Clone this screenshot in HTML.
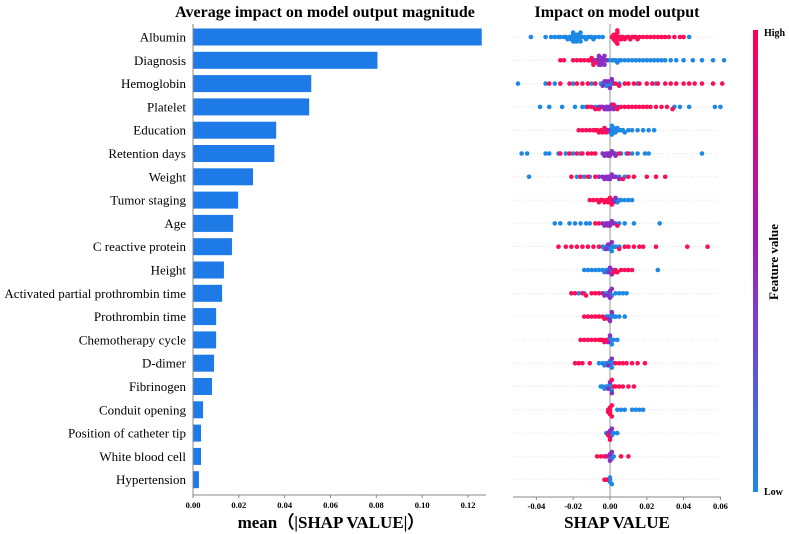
<!DOCTYPE html>
<html><head><meta charset="utf-8"><style>
html,body{margin:0;padding:0;background:#fff;width:789px;height:534px;overflow:hidden}
svg text{font-family:"Liberation Serif",serif}
</style></head><body>
<svg id="c" width="789" height="534" xmlns="http://www.w3.org/2000/svg">
<defs><linearGradient id="cg" x1="0" y1="0" x2="0" y2="1">
<stop offset="0" stop-color="#ff0052"/><stop offset="0.45" stop-color="#a21ab4"/><stop offset="0.62" stop-color="#7a3fcf"/><stop offset="1" stop-color="#1e88e5"/></linearGradient></defs>
<text x="325" y="17" font-size="16" font-weight="bold" text-anchor="middle">Average impact on model output magnitude</text>
<text x="617" y="17" font-size="16" font-weight="bold" text-anchor="middle">Impact on model output</text>
<g id="bars"></g>
<g id="swarm"></g>
<rect x="753" y="30" width="5" height="462" fill="url(#cg)"/>
<text x="764" y="36" font-size="10" font-weight="bold">High</text>
<text x="764" y="495" font-size="10" font-weight="bold">Low</text>
<text x="0" y="0" font-size="13" font-weight="bold" text-anchor="middle" transform="translate(778,262) rotate(-90)">Feature value</text>
<text x="331" y="528" font-size="17" font-weight="bold" text-anchor="middle">mean（|SHAP VALUE|）</text>
<text x="617" y="528" font-size="17" font-weight="bold" text-anchor="middle">SHAP VALUE</text>
</svg>
<script>
const features=["Albumin","Diagnosis","Hemoglobin","Platelet","Education","Retention days","Weight","Tumor staging","Age","C reactive protein","Height","Activated partial prothrombin time","Prothrombin time","Chemotherapy cycle","D-dimer","Fibrinogen","Conduit opening","Position of catheter tip","White blood cell","Hypertension"];
const meanShap=[0.126,0.0805,0.0516,0.0507,0.0363,0.0355,0.0262,0.0197,0.0175,0.017,0.0135,0.0127,0.0101,0.0101,0.0092,0.0083,0.0044,0.0035,0.0035,0.0026];
const barTicks=[0,0.02,0.04,0.06,0.08,0.10,0.12];
const swarmTicks=[-0.04,-0.02,0,0.02,0.04,0.06];
const shapLow=[
[-0.043,-0.035,-0.032,-0.03,-0.028,-0.027,-0.025,-0.024,-0.023,-0.022,-0.021,-0.021,-0.02,-0.02,-0.02,-0.019,-0.019,-0.019,-0.019,-0.018,-0.018,-0.018,-0.018,-0.017,-0.017,-0.017,-0.016,-0.016,-0.015,-0.014,-0.013,-0.012,-0.011,-0.01,-0.009,-0.008,-0.006,-0.004,0.043],
[-0.001,0.001,0.002,0.003,0.004,0.005,0.006,0.008,0.01,0.012,0.014,0.016,0.018,0.02,0.022,0.024,0.026,0.028,0.03,0.033,0.036,0.04,0.045,0.05,0.056,0.062],
[-0.05,-0.035,-0.03,-0.02,-0.01,-0.005,-0.003,-0.002,-0.002,-0.001,-0.001,0,0,0.001,0.005,0.015,0.025],
[-0.038,-0.033,-0.026,-0.019,-0.015,-0.013,-0.008,0,0.002,0.035,0.038,0.043,0.057,0.06],
[0,0,0.001,0.001,0.001,0.002,0.002,0.002,0.003,0.003,0.004,0.005,0.006,0.007,0.008,0.01,0.012,0.015,0.018,0.021,0.024],
[-0.048,-0.045,-0.035,-0.033,-0.028,-0.024,-0.02,-0.016,0.003,0.006,0.009,0.012,0.015,0.019,0.021,0.05],
[-0.044,-0.018,-0.014,-0.011,0.005,0.008],
[0.002,0.003,0.004,0.005,0.006,0.008,0.01,0.012],
[-0.03,-0.027,-0.022,-0.019,-0.016,-0.013,-0.011,0.003,0.005,0.008,0.013,0.027],
[-0.004,-0.003,-0.002,-0.001,-0.001,0,0,0,0.001,0.002,0.003,0.005],
[-0.014,-0.012,-0.01,-0.008,-0.006,-0.004,-0.003,-0.002,-0.001,0,0,0.026],
[-0.017,-0.014,-0.002,-0.001,0,0.001,0.003,0.005,0.007,0.009],
[-0.002,-0.001,0,0,0.001,0.002,0.003,0.005,0.008],
[-0.001,0,0,0,0.001,0.002,0.004],
[-0.006,-0.004,-0.003,-0.002,-0.001,0,0,0,0.001,0.002],
[-0.005,-0.004,-0.003,-0.002,-0.001,0,0,0,0.001],
[0.004,0.006,0.008,0.012,0.014,0.016,0.018],
[-0.002,0,0.001,0.002,0.004],
[0,0.001,0.002],
[-0.001,0,0,0,0.001]];
const shapMid=[
[],
[-0.01,-0.009,-0.008,-0.007,-0.007,-0.006,-0.006,-0.006,-0.005,-0.005,-0.005,-0.005,-0.004,-0.004,-0.004,-0.003,-0.003,-0.002],
[-0.004,-0.003,-0.002,-0.001,0,0.001,0.002],
[-0.006,-0.005,-0.004,-0.003,-0.002,-0.002,-0.001,-0.001,0,0.001,0.002,0.004],
[-0.003,-0.002,-0.001],
[-0.004,-0.003,-0.002,-0.001,-0.001,0,0,0.001,0.002,0.003],
[-0.006,-0.004,-0.003,-0.002,-0.001,-0.001,0,0,0.001,0.002,0.003,0.005],
[0.001,0.002,0.003],
[-0.004,-0.003,-0.002,-0.001,-0.001,0,0,0.001,0.002],
[-0.002,-0.001,0.001],
[-0.001,0,0.001,0.002],
[-0.004,-0.003,-0.001,0,0,0.001],
[-0.001,0,0.001],
[-0.001,0],
[-0.001,0.001],
[-0.001,0,0.001],
[],
[-0.001,0,0,0.001],
[-0.002,-0.001,0,0,0.001],
[]];
const shapHigh=[
[0.001,0.002,0.002,0.002,0.003,0.003,0.003,0.003,0.004,0.004,0.004,0.005,0.005,0.006,0.006,0.007,0.008,0.009,0.01,0.011,0.012,0.013,0.014,0.015,0.016,0.018,0.02,0.022,0.024,0.026,0.028,0.03,0.032,0.035,0.038,0.04],
[-0.027,-0.025,-0.02,-0.018,-0.016,-0.014,-0.012,-0.011,-0.01,-0.009,-0.008],
[-0.033,-0.027,-0.022,-0.018,-0.015,-0.012,-0.008,0.003,0.005,0.008,0.01,0.013,0.016,0.02,0.023,0.026,0.03,0.033,0.036,0.04,0.043,0.046,0.05,0.056,0.061],
[-0.012,-0.01,-0.008,-0.006,0.002,0.004,0.006,0.008,0.01,0.012,0.014,0.016,0.018,0.02,0.022,0.025,0.028,0.031,0.034],
[-0.017,-0.015,-0.013,-0.011,-0.009,-0.008,-0.007,-0.006,-0.005,-0.004,-0.003,-0.002],
[-0.027,-0.022,-0.018,-0.015,-0.012,-0.01,-0.008,0.005,0.01],
[-0.021,-0.016,-0.012,-0.008,0.007,0.01,0.013,0.02,0.025,0.03],
[-0.011,-0.009,-0.007,-0.006,-0.005,-0.004,-0.003,-0.002,-0.001,-0.001,0,0,0.001],
[-0.008,-0.006,0.004],
[-0.028,-0.024,-0.021,-0.018,-0.015,-0.012,-0.009,-0.006,0.005,0.008,0.01,0.013,0.016,0.018,0.025,0.042,0.053],
[0.002,0.003,0.004,0.006,0.008,0.01,0.012],
[-0.021,-0.019,-0.015,-0.013,-0.01,-0.008,-0.006],
[-0.014,-0.012,-0.01,-0.008,-0.006,-0.004,-0.003],
[-0.016,-0.014,-0.012,-0.01,-0.008,-0.006,-0.005,-0.004,-0.003,-0.002],
[-0.019,-0.017,-0.015,-0.011,0.003,0.005,0.007,0.009,0.012,0.015,0.019],
[0.001,0.002,0.003,0.005,0.007,0.01,0.013],
[-0.001,-0.001,0,0,0,0,0.001,0.001],
[-0.001,0],
[-0.007,-0.005,-0.003,0.006,0.01],
[-0.003,-0.002]];

const NS="http://www.w3.org/2000/svg";
function mk(p,t,a){const e=document.createElementNS(NS,t);for(const k in a)e.setAttribute(k,a[k]);p.appendChild(e);return e;}
const rowY=i=>37+i*23.3;
const bx=v=>193+v*(468-193)/0.12;
const sx=v=>610+v*(36.8/0.02);
const bars=document.getElementById('bars'),sw=document.getElementById('swarm');
features.forEach((f,i)=>{
  const t=mk(bars,'text',{x:186,y:rowY(i)+4.5,'font-size':13,'text-anchor':'end'});t.textContent=f;
  
  
  const r=mk(bars,'rect',{x:bx(0),y:rowY(i)-8.5,width:bx(meanShap[i])-bx(0),height:17,fill:'#1e7ae6'});
  
  
});
let ax=mk(bars,'line',{x1:193,y1:495,x2:486,y2:495,stroke:'#888','stroke-width':1});


let sp=mk(bars,'line',{x1:193,y1:24,x2:193,y2:495,stroke:'#888','stroke-width':1});


barTicks.forEach(v=>{
  mk(bars,'line',{x1:bx(v),y1:495,x2:bx(v),y2:498,stroke:'#888'});
  const t=mk(bars,'text',{x:bx(v),y:508,'font-size':8.5,'font-weight':'bold','text-anchor':'middle'});t.textContent=v.toFixed(2);
  
  
});
features.forEach((f,i)=>{
  const g=mk(sw,'line',{x1:513,y1:rowY(i),x2:720,y2:rowY(i),stroke:'#ddd','stroke-width':0.8,'stroke-dasharray':'1 2'});
  
  
});
let zl=mk(sw,'line',{x1:sx(0),y1:24,x2:sx(0),y2:497,stroke:'#999','stroke-width':1});


const cols=['#1e88e5','#8a2fc4','#ff0d57'];
features.forEach((f,i)=>{
  const pts=[];
  shapLow[i].forEach(v=>pts.push([v,0]));shapMid[i].forEach(v=>pts.push([v,1]));shapHigh[i].forEach(v=>pts.push([v,2]));
  const bins={};
  pts.forEach(p=>{
    const b=Math.round(sx(p[0])/2.6);
    const k=bins[b]||0;bins[b]=k+1;
    let off=Math.ceil(k/2)*2.2*(k%2?1:-1);
    if(Math.abs(off)>11)off=(off>0?1:-1)*(11-(k%5));
    const c=mk(sw,'circle',{cx:sx(p[0]),cy:rowY(i)+off,r:2.3,fill:cols[p[1]]});
    
    
  });
});
let sa=mk(sw,'line',{x1:513,y1:497,x2:721,y2:497,stroke:'#888','stroke-width':1});


swarmTicks.forEach(v=>{
  mk(sw,'line',{x1:sx(v),y1:497,x2:sx(v),y2:500,stroke:'#888'});
  const t=mk(sw,'text',{x:sx(v),y:509,'font-size':8.5,'font-weight':'bold','text-anchor':'middle'});t.textContent=v.toFixed(2);
  
  
});
</script>
</body></html>
